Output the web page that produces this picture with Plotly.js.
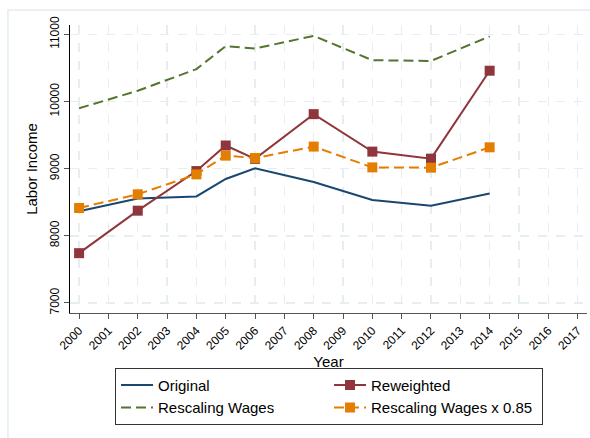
<!DOCTYPE html>
<html>
<head>
<meta charset="utf-8">
<script src="https://cdn.plot.ly/plotly-3.0.1.min.js"></script>
<style>html,body{margin:0;padding:0;background:#fff;}#chart{width:590px;height:438px;}</style>
</head>
<body>
<div id="chart"></div>
<script>
const years = [2000, 2002, 2004, 2005, 2006, 2008, 2010, 2012, 2014];
const original = [8365, 8557, 8587, 8846, 9005, 8800, 8532, 8448, 8631];
const reweighted = [7741, 8374, 8964, 9345, 9146, 9812, 9254, 9149, 10459];
const rescaling = [9900, 10160, 10483, 10825, 10790, 10978, 10615, 10605, 10970];
const rescaling085 = [8414, 8618, 8915, 9194, 9158, 9329, 9019, 9015, 9318];
const xTicks = [2000,2001,2002,2003,2004,2005,2006,2007,2008,2009,2010,2011,2012,2013,2014,2015,2016,2017];
const yTicks = [7000, 8000, 9000, 10000, 11000];

const font = 'Liberation Sans, Arial, sans-serif';
const traces = [
  {x: years, y: original, name: 'Original', type: 'scatter', mode: 'lines',
   line: {color: '#1a476f', width: 2}},
  {x: years, y: reweighted, name: 'Reweighted', type: 'scatter', mode: 'lines+markers',
   line: {color: '#90353b', width: 2}, marker: {symbol: 'square', size: 10, color: '#90353b'}},
  {x: years, y: rescaling, name: 'Rescaling Wages', type: 'scatter', mode: 'lines',
   line: {color: '#55752f', width: 2, dash: '10px,5px'}},
  {x: years, y: rescaling085, name: 'Rescaling Wages x 0.85', type: 'scatter', mode: 'lines+markers',
   line: {color: '#e37e00', width: 2, dash: '10px,5px'}, marker: {symbol: 'square', size: 10, color: '#e37e00'}}
];

const layout = {
  width: 590, height: 438,
  margin: {l: 70, r: 3, t: 25, b: 125},
  paper_bgcolor: '#ffffff', plot_bgcolor: '#ffffff',
  font: {family: font, color: '#000'},
  showlegend: true,
  xaxis: {
    range: [1999.69, 2017.32], tickvals: xTicks, ticktext: xTicks.map(String),
    tickangle: -45, tickfont: {size: 12, family: font},
    ticks: 'outside', ticklen: 5, tickcolor: '#555', showline: true, linecolor: '#555', linewidth: 1,
    showgrid: true, gridcolor: '#e6eef2', griddash: 'dash', gridwidth: 1.5, zeroline: false,
    title: {text: 'Year', font: {size: 15, family: font}, standoff: 1}
  },
  yaxis: {
    range: [6850, 11140], tickvals: yTicks, ticktext: yTicks.map(String),
    tickangle: -90, tickfont: {size: 12, family: font},
    ticks: 'outside', ticklen: 5, tickcolor: '#555', showline: true, linecolor: '#000', linewidth: 1,
    showgrid: true, gridcolor: '#e6eef2', griddash: 'dash', gridwidth: 1.5, zeroline: false,
    title: {text: 'Labor Income', font: {size: 15, family: font}, standoff: 6}
  },
  legend: {
    orientation: 'h', x: 0.501, xanchor: 'center', y: -0.19, yanchor: 'top',
    entrywidth: 166, entrywidthmode: 'pixels', itemwidth: 32,
    bordercolor: '#333', borderwidth: 1, bgcolor: '#fff',
    font: {size: 15, family: font}, tracegroupgap: 0
  },
  shapes: [
    {type: 'rect', xref: 'paper', yref: 'paper', x0: -0.12, x1: 1.2, y0: -1, y1: 1.052,
     line: {color: '#e4ecf0', width: 1.5}, layer: 'below'}
  ]
};

Plotly.newPlot('chart', traces, layout, {displayModeBar: false, staticPlot: true});
</script>
</body>
</html>
